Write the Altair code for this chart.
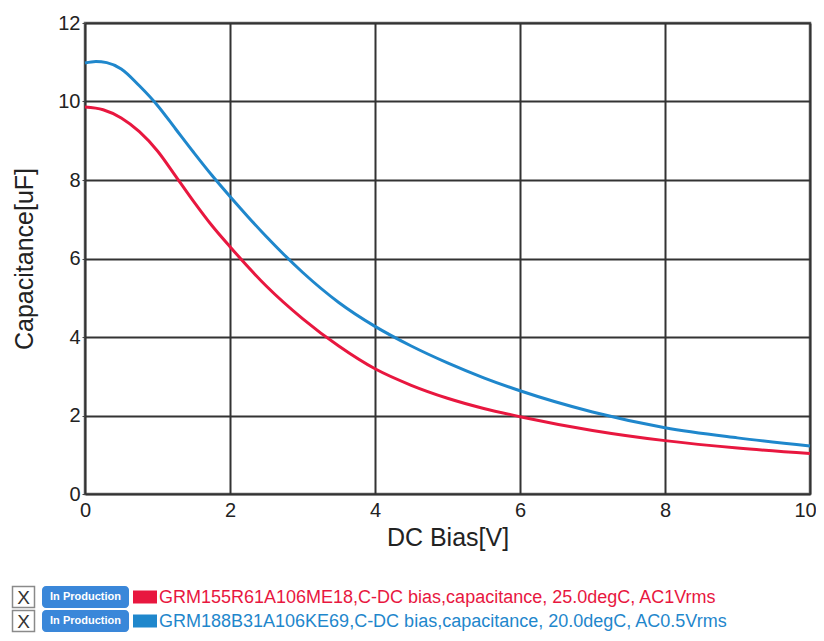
import altair as alt
import pandas as pd

# ---- data ----
red_v = [0, 0.25, 0.5, 0.75, 1, 1.25, 1.5, 1.75, 2, 2.5, 3, 3.5, 4, 4.5, 5, 5.5, 6, 7, 8, 9, 10]
red_uf = [9.86, 9.79, 9.58, 9.23, 8.74, 8.1, 7.45, 6.84, 6.3, 5.3, 4.47, 3.77, 3.19, 2.77,
          2.44, 2.18, 1.97, 1.62, 1.36, 1.17, 1.03]
blue_v = [0, 0.15, 0.3, 0.5, 0.75, 1, 1.25, 1.5, 1.75, 2, 2.25, 2.5, 2.75, 3, 3.5, 4, 4.5, 5,
          5.5, 6, 7, 8, 9, 10]
blue_uf = [10.98, 11.02, 10.99, 10.83, 10.4, 9.9, 9.3, 8.7, 8.12, 7.58, 7.06, 6.56, 6.09, 5.65,
           4.88, 4.27, 3.77, 3.34, 2.96, 2.63, 2.09, 1.69, 1.43, 1.22]

series_names = [
    "GRM155R61A106ME18,C-DC bias,capacitance, 25.0degC, AC1Vrms",
    "GRM188B31A106KE69,C-DC bias,capacitance, 20.0degC, AC0.5Vrms",
]
series_colors = ["#e8173f", "#1f87cc"]

x_ticks = [0, 2, 4, 6, 8, 10]
y_ticks = [0, 2, 4, 6, 8, 10, 12]

badge_text = "In Production"
check_text = "X"

FONT = "Liberation Sans"

rows = []
for name, xs, ys in zip(series_names, [red_v, blue_v], [red_uf, blue_uf]):
    for xv, yv in zip(xs, ys):
        rows.append({"series": name, "bias": xv, "cap": yv})
df = pd.DataFrame(rows)

color_scale = alt.Scale(domain=series_names, range=series_colors)

lines = alt.Chart(df).mark_line(strokeWidth=3, interpolate="monotone").encode(
    x=alt.X("bias:Q", title="DC Bias[V]",
            scale=alt.Scale(domain=[0, 10], nice=False),
            axis=alt.Axis(values=x_ticks, format="d", grid=True, gridColor="#333",
                          gridWidth=2, gridOpacity=1, domain=False, ticks=False,
                          labelFont=FONT, labelFontSize=20, labelColor="#222",
                          labelPadding=6, labelFlush=False,
                          labelOffset={"condition": {"test": "datum.value == 10", "value": -5},
                                       "value": 0},
                          titleFont=FONT, titleFontSize=25,
                          titleFontWeight="normal", titleColor="#222", titlePadding=5)),
    y=alt.Y("cap:Q", title="Capacitance[uF]",
            scale=alt.Scale(domain=[0, 12], nice=False),
            axis=alt.Axis(values=y_ticks, grid=True, gridColor="#333",
                          gridWidth=2, gridOpacity=1, domain=False, tickSize=3,
                          tickColor="#444", labelFont=FONT, labelFontSize=20,
                          labelColor="#222", labelPadding=2, labelFlush=False,
                          titleFont=FONT, titleFontSize=25, titleFontWeight="normal",
                          titleColor="#222", titlePadding=20)),
    color=alt.Color("series:N", scale=color_scale, legend=None),
)

# ---- custom legend rows (below the plot) ----
leg = pd.DataFrame({
    "row": [0, 1],
    "series": series_names,
    "badge": [badge_text, badge_text],
    "mark": [check_text, check_text],
})
OX = 85   # plot-area left edge, page px
OY = 23   # plot-area top edge, page px
ly = alt.Y("row:O", axis=None,
           scale=alt.Scale(type="point", padding=0, range=[597 - OY, 621 - OY]))

box = alt.Chart(leg).mark_bar(size=21, fill="white", stroke="#8a8a8a", strokeWidth=1.5).encode(
    y=ly, x=alt.value(12.5 - OX), x2=alt.value(34.5 - OX))
xmark = alt.Chart(leg).mark_text(font=FONT, fontSize=19, color="#333",
                                 align="center", baseline="middle", dy=1).encode(
    y=ly, x=alt.value(23.5 - OX), text="mark:N")
badge = alt.Chart(leg).mark_bar(size=22, fill="#3a87d9", cornerRadius=4).encode(
    y=ly, x=alt.value(42 - OX), x2=alt.value(129 - OX))
badge_t = alt.Chart(leg).mark_text(font=FONT, fontSize=11, fontWeight="bold", color="white",
                                   align="center", baseline="middle").encode(
    y=ly, x=alt.value(85.5 - OX), text="badge:N")
swatch = alt.Chart(leg).mark_bar(size=13).encode(
    y=ly, x=alt.value(133 - OX), x2=alt.value(157 - OX),
    color=alt.Color("series:N", scale=color_scale, legend=None))
label = alt.Chart(leg).mark_text(font=FONT, fontSize=18, align="left", baseline="middle",
                                 dy=1).encode(
    y=ly, x=alt.value(159 - OX), text="series:N",
    color=alt.Color("series:N", scale=color_scale, legend=None))

W, H = 725, 471
TOTAL_W, TOTAL_H = 808, 625
chart = alt.layer(lines, box, xmark, badge, badge_t, swatch, label).resolve_scale(
    y="independent"
).properties(
    width=W, height=H,
    autosize=alt.AutoSizeParams(type="none"),
    padding={"left": OX - 8, "top": OY - 8, "right": TOTAL_W - (OX - 8) - W,
             "bottom": TOTAL_H - (OY - 8) - H},
    background="white",
).configure_view(stroke="#666", strokeWidth=2.5)

chart.save("out.html", embed_options={"renderer": "svg", "actions": False})
